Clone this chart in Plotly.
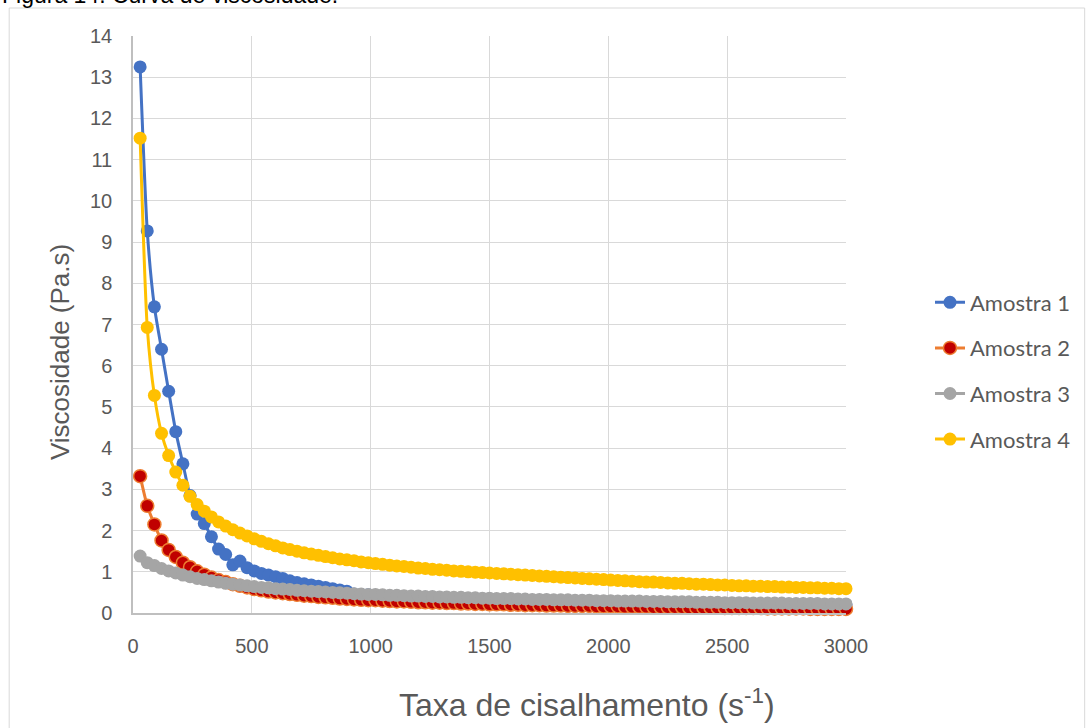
import plotly.graph_objects as go

# Shear rate (s^-1)
taxa = [30, 60, 90, 120, 150, 180, 210, 240, 270, 300,
        330, 360, 390, 420, 450, 480, 510, 540, 570, 600,
        630, 660, 690, 720, 750, 780, 810, 840, 870, 900,
        930, 960, 990, 1020, 1050, 1080, 1110, 1140, 1170, 1200,
        1230, 1260, 1290, 1320, 1350, 1380, 1410, 1440, 1470, 1500,
        1530, 1560, 1590, 1620, 1650, 1680, 1710, 1740, 1770, 1800,
        1830, 1860, 1890, 1920, 1950, 1980, 2010, 2040, 2070, 2100,
        2130, 2160, 2190, 2220, 2250, 2280, 2310, 2340, 2370, 2400,
        2430, 2460, 2490, 2520, 2550, 2580, 2610, 2640, 2670, 2700,
        2730, 2760, 2790, 2820, 2850, 2880, 2910, 2940, 2970, 3000]

# Viscosity (Pa.s)
amostra_1 = [13.25, 9.27, 7.43, 6.40, 5.38, 4.40, 3.62, 2.85, 2.40, 2.17,
             1.85, 1.55, 1.42, 1.17, 1.26, 1.10, 1.02, 0.96, 0.92, 0.88,
             0.84, 0.78, 0.74, 0.71, 0.68, 0.65, 0.62, 0.59, 0.56, 0.53,
             0.46, 0.45, 0.44, 0.43, 0.42, 0.41, 0.41, 0.40, 0.39, 0.39,
             0.38, 0.38, 0.37, 0.37, 0.36, 0.36, 0.35, 0.35, 0.34, 0.34,
             0.33, 0.33, 0.33, 0.32, 0.32, 0.31, 0.31, 0.31, 0.30, 0.30,
             0.30, 0.29, 0.29, 0.29, 0.28, 0.28, 0.28, 0.27, 0.27, 0.27,
             0.27, 0.26, 0.26, 0.26, 0.25, 0.25, 0.25, 0.25, 0.24, 0.24,
             0.24, 0.24, 0.23, 0.23, 0.23, 0.23, 0.22, 0.22, 0.22, 0.22,
             0.22, 0.21, 0.21, 0.21, 0.21, 0.21, 0.20, 0.20, 0.20, 0.20]

amostra_2 = [3.32, 2.60, 2.15, 1.76, 1.53, 1.36, 1.22, 1.11, 1.01, 0.93,
             0.86, 0.80, 0.75, 0.70, 0.66, 0.62, 0.58, 0.55, 0.52, 0.50,
             0.48, 0.46, 0.44, 0.42, 0.41, 0.39, 0.38, 0.37, 0.35, 0.34,
             0.33, 0.32, 0.31, 0.31, 0.30, 0.29, 0.28, 0.28, 0.27, 0.26,
             0.26, 0.25, 0.25, 0.24, 0.24, 0.23, 0.23, 0.22, 0.22, 0.21,
             0.21, 0.21, 0.20, 0.20, 0.19, 0.19, 0.19, 0.18, 0.18, 0.18,
             0.17, 0.17, 0.17, 0.17, 0.16, 0.16, 0.16, 0.16, 0.15, 0.15,
             0.15, 0.15, 0.14, 0.14, 0.14, 0.14, 0.14, 0.13, 0.13, 0.13,
             0.13, 0.13, 0.12, 0.12, 0.12, 0.12, 0.12, 0.12, 0.11, 0.11,
             0.11, 0.11, 0.11, 0.11, 0.10, 0.10, 0.10, 0.10, 0.10, 0.10]

amostra_3 = [1.38, 1.22, 1.15, 1.08, 1.02, 0.97, 0.92, 0.88, 0.84, 0.81,
             0.78, 0.75, 0.72, 0.70, 0.68, 0.66, 0.64, 0.62, 0.61, 0.59,
             0.58, 0.57, 0.55, 0.54, 0.53, 0.52, 0.51, 0.50, 0.49, 0.48,
             0.47, 0.46, 0.45, 0.45, 0.44, 0.43, 0.43, 0.42, 0.41, 0.41,
             0.40, 0.40, 0.39, 0.39, 0.38, 0.38, 0.37, 0.37, 0.36, 0.36,
             0.35, 0.35, 0.35, 0.34, 0.34, 0.33, 0.33, 0.33, 0.32, 0.32,
             0.32, 0.31, 0.31, 0.31, 0.30, 0.30, 0.30, 0.29, 0.29, 0.29,
             0.29, 0.28, 0.28, 0.28, 0.27, 0.27, 0.27, 0.27, 0.26, 0.26,
             0.26, 0.26, 0.25, 0.25, 0.25, 0.25, 0.24, 0.24, 0.24, 0.24,
             0.24, 0.23, 0.23, 0.23, 0.23, 0.23, 0.22, 0.22, 0.22, 0.22]

amostra_4 = [11.52, 6.93, 5.28, 4.36, 3.82, 3.42, 3.10, 2.83, 2.63, 2.47,
             2.33, 2.21, 2.11, 2.02, 1.94, 1.87, 1.80, 1.74, 1.68, 1.63,
             1.58, 1.54, 1.50, 1.46, 1.43, 1.40, 1.37, 1.34, 1.31, 1.29,
             1.27, 1.24, 1.22, 1.20, 1.18, 1.16, 1.14, 1.13, 1.11, 1.09,
             1.08, 1.06, 1.05, 1.04, 1.02, 1.01, 1.00, 0.99, 0.98, 0.97,
             0.96, 0.95, 0.94, 0.93, 0.92, 0.91, 0.90, 0.89, 0.88, 0.87,
             0.86, 0.85, 0.84, 0.83, 0.82, 0.81, 0.80, 0.79, 0.78, 0.77,
             0.76, 0.75, 0.75, 0.74, 0.73, 0.72, 0.72, 0.71, 0.70, 0.70,
             0.69, 0.68, 0.68, 0.67, 0.66, 0.66, 0.65, 0.65, 0.64, 0.64,
             0.63, 0.63, 0.62, 0.62, 0.61, 0.61, 0.60, 0.60, 0.59, 0.59]

series = [
    ("Amostra 1", amostra_1, "#4472C4", "#4472C4", "#4472C4"),
    ("Amostra 2", amostra_2, "#ED7D31", "#C00000", "#ED7D31"),
    ("Amostra 3", amostra_3, "#A5A5A5", "#A5A5A5", "#A5A5A5"),
    ("Amostra 4", amostra_4, "#FFC000", "#FFC000", "#FFC000"),
]

W, H = 1087, 728
L, R, T, B = 133, 240, 36, 115
pw, ph = W - L - R, H - T - B


def px_x(p):
    return (p - L) / pw


def px_y(p):
    return (H - B - p) / ph


fig = go.Figure()
for i, (name, vals, line_c, fill_c, edge_c) in enumerate(series):
    fig.add_trace(go.Scatter(
        x=taxa, y=vals, name=name, mode="lines+markers",
        legendgroup=f"g{i}",
        line=dict(color=line_c, width=3, shape="spline", smoothing=0.6),
        marker=dict(size=13, color=fill_c,
                    line=dict(color=edge_c, width=1.5 if i == 1 else 0)),
        cliponaxis=False,
    ))

tick_font = dict(family="Liberation Sans, Arial, sans-serif", size=20, color="#595959")
y_title_font = dict(family="Liberation Sans, Arial, sans-serif", size=26, color="#595959")
x_title_font = dict(family="Liberation Sans, Arial, sans-serif", size=32, color="#595959")

fig.update_layout(
    width=W, height=H,
    margin=dict(l=L, r=R, t=T, b=B, pad=0),
    paper_bgcolor="white", plot_bgcolor="white",
    showlegend=True,
    legend=dict(
        x=px_x(930), y=px_y(371), xanchor="left", yanchor="middle",
        font=dict(family="Lato, Open Sans, sans-serif", size=22, color="#595959"),
        tracegroupgap=14, bgcolor="rgba(0,0,0,0)",
    ),
    xaxis=dict(
        range=[0, 3000], dtick=500, tick0=0,
        showgrid=True, gridcolor="#D9D9D9", gridwidth=1,
        showline=True, linecolor="#BFBFBF", linewidth=1.5,
        zeroline=False, ticks="", tickfont=tick_font, ticklabelstandoff=14,
    ),
    yaxis=dict(
        range=[0, 14], dtick=1, tick0=0,
        showgrid=True, gridcolor="#D9D9D9", gridwidth=1,
        showline=True, linecolor="#BFBFBF", linewidth=1.5,
        zeroline=False, ticks="", tickfont=tick_font, ticklabelstandoff=15,
    ),
    annotations=[
        dict(text="Viscosidade (Pa.s)", textangle=-90, showarrow=False,
             xref="paper", yref="paper", x=px_x(60), y=px_y(352),
             xanchor="center", yanchor="middle", font=y_title_font),
        dict(text="Taxa de cisalhamento (s<sup>-1</sup>)", showarrow=False,
             xref="paper", yref="paper", x=px_x(588), y=px_y(703),
             xanchor="center", yanchor="middle", font=x_title_font),
        dict(text="Figura 14. Curva de viscosidade.", showarrow=False,
             xref="paper", yref="paper", x=px_x(0), y=px_y(-5),
             xanchor="left", yanchor="middle",
             font=dict(family="Liberation Sans, Arial, sans-serif", size=23, color="#000000")),
    ],
    shapes=[
        dict(type="rect", xref="paper", yref="paper",
             x0=px_x(9), x1=px_x(1086), y0=px_y(745), y1=px_y(8),
             line=dict(color="#D9D9D9", width=1), fillcolor="rgba(0,0,0,0)",
             layer="below"),
    ],
)

fig.write_html("out.html")
